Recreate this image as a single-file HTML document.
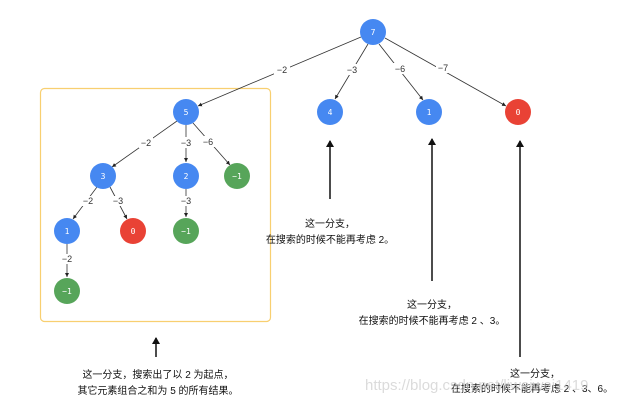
<!DOCTYPE html>
<html><head><meta charset="utf-8"><style>
body{margin:0;background:#fff;}
svg{display:block;font-family:"Liberation Sans","Noto Sans CJK SC",sans-serif;}
.n{font-size:8px;fill:#fff;text-anchor:middle;font-family:"DejaVu Sans Mono",monospace;}
.l{font-size:9px;fill:#333;text-anchor:middle;}
.t{font-size:10px;fill:#111;text-anchor:middle;}
</style></head><body>
<svg width="633" height="405" viewBox="0 0 633 405">
<defs>
<marker id="a" markerWidth="6" markerHeight="6" refX="5" refY="3" orient="auto"><path d="M0,0.5 L5,3 L0,5.5z" fill="#222"/></marker>
<marker id="b" markerWidth="8" markerHeight="8" refX="6" refY="4" orient="auto" markerUnits="userSpaceOnUse"><path d="M0,0 L7,4 L0,8z" fill="#111"/></marker>
</defs>
<rect x="40.5" y="88.5" width="230" height="233" rx="4" fill="none" stroke="#f8cf70" stroke-width="1.2"/>
<g stroke="#333" stroke-width="0.8" marker-end="url(#a)">
<line x1="361" y1="37" x2="198" y2="106"/>
<line x1="368" y1="44" x2="335" y2="99"/>
<line x1="379" y1="44" x2="423" y2="100"/>
<line x1="385" y1="38" x2="506" y2="106"/>
<line x1="177" y1="121" x2="112" y2="167"/>
<line x1="186" y1="125" x2="186" y2="162"/>
<line x1="193" y1="123" x2="230" y2="165"/>
<line x1="97" y1="187" x2="73" y2="219"/>
<line x1="110" y1="187" x2="127" y2="219"/>
<line x1="186" y1="189" x2="186" y2="217"/>
<line x1="67" y1="244" x2="67" y2="277"/>
</g>
<g fill="#fff">
<rect x="274" y="64" width="16" height="11"/><rect x="345" y="64" width="14" height="11"/>
<rect x="393" y="63" width="14" height="11"/><rect x="436" y="62" width="14" height="11"/>
<rect x="139" y="137" width="14" height="11"/><rect x="179" y="137" width="14" height="11"/>
<rect x="201" y="136" width="14" height="11"/><rect x="81" y="196" width="14" height="10"/>
<rect x="111" y="196" width="14" height="10"/><rect x="179" y="196" width="14" height="10"/>
<rect x="60" y="254" width="14" height="10"/>
</g>
<g class="l">
<text x="282" y="73">−2</text><text x="352" y="73">−3</text><text x="400" y="72">−6</text><text x="443" y="71">−7</text>
<text x="146" y="146">−2</text><text x="186" y="146">−3</text><text x="208" y="145">−6</text>
<text x="88" y="204">−2</text><text x="118" y="204">−3</text><text x="186" y="204">−3</text>
<text x="67" y="262">−2</text>
</g>
<g>
<ellipse cx="373" cy="32" rx="13" ry="13" fill="#4688f1"/>
<ellipse cx="186" cy="112" rx="13" ry="13" fill="#4688f1"/>
<ellipse cx="330" cy="112" rx="13" ry="13" fill="#4688f1"/>
<ellipse cx="429" cy="112" rx="13" ry="13" fill="#4688f1"/>
<ellipse cx="518" cy="112" rx="13" ry="13" fill="#e94235"/>
<ellipse cx="103" cy="176" rx="13" ry="13" fill="#4688f1"/>
<ellipse cx="186" cy="176" rx="13" ry="13" fill="#4688f1"/>
<ellipse cx="237" cy="176" rx="13" ry="13" fill="#57a55a"/>
<ellipse cx="67" cy="231" rx="13" ry="13" fill="#4688f1"/>
<ellipse cx="133" cy="231" rx="13" ry="13" fill="#e94235"/>
<ellipse cx="186" cy="231" rx="13" ry="13" fill="#57a55a"/>
<ellipse cx="67" cy="291" rx="13" ry="13" fill="#57a55a"/>
</g>
<g class="n">
<text x="373" y="35">7</text><text x="186" y="115">5</text><text x="330" y="115">4</text><text x="429" y="115">1</text><text x="518" y="115">0</text>
<text x="103" y="179">3</text><text x="186" y="179">2</text><text x="237" y="179">−1</text>
<text x="67" y="234">1</text><text x="133" y="234">0</text><text x="186" y="234">−1</text><text x="67" y="294">−1</text>
</g>
<g stroke="#111" stroke-width="1.5" marker-end="url(#b)">
<line x1="330" y1="199" x2="330" y2="141"/>
<line x1="432" y1="281" x2="432" y2="139"/>
<line x1="520" y1="357" x2="520" y2="141"/>
<line x1="156" y1="357" x2="156" y2="338"/>
</g>
<g class="t">
<text x="330" y="227">这一分支，</text><text x="330" y="243">在搜索的时候不能再考虑 2。</text>
<text x="432" y="308">这一分支，</text><text x="432" y="324">在搜索的时候不能再考虑 2 、3。</text>
<text x="535" y="377">这一分支，</text><text x="532" y="392">在搜索的时候不能再考虑 2 、3、6。</text>
<text x="158" y="378">这一分支，搜索出了以 2 为起点，</text><text x="158" y="394">其它元素组合之和为 5 的所有结果。</text>
</g>
<text x="365" y="390" font-size="15" fill="#ccc" opacity="0.7">https://blog.csdn.net/liweiwei1419</text>
</svg>
</body></html>
